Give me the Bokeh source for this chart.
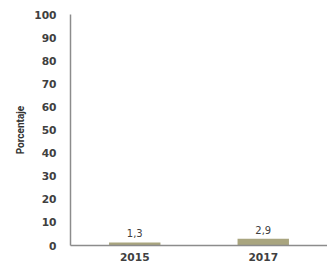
from bokeh.plotting import figure
from bokeh.models import ColumnDataSource, Range1d, FixedTicker
from bokeh.core.properties import value
from bokeh.embed import file_html
from bokeh.resources import INLINE

years = ["2015", "2017"]
values = [1.3, 2.9]
y_ticks = [0, 10, 20, 30, 40, 50, 60, 70, 80, 90, 100]

labels = [f"{v:.1f}".replace(".", ",") for v in values]
src = ColumnDataSource(dict(x=years, top=values, label=labels))

p = figure(x_range=years, y_range=Range1d(0, 100), width=327, height=263,
           output_backend="svg", toolbar_location=None,
           min_border_left=70, min_border_right=0, min_border_top=14, min_border_bottom=16)
p.outline_line_color = None
p.grid.grid_line_color = None
p.background_fill_color = "white"
p.border_fill_color = "white"

p.vbar(x="x", top="top", width=0.4, source=src, fill_color="#a9a57f", line_color=None)
p.text(x="x", y="top", text="label", source=src, text_align="center",
       text_baseline="bottom", y_offset=-5, text_font=value("DejaVu Sans"),
       text_font_size="7.5pt", text_color="#404040")

p.yaxis.ticker = FixedTicker(ticks=y_ticks)
p.yaxis.axis_label = "Porcentaje"
p.yaxis.axis_label_text_font = "Roboto"
p.yaxis.axis_label_text_font_style = "bold"
p.yaxis.axis_label_text_font_size = "7.5pt"
p.yaxis.axis_label_text_color = "#333333"
p.yaxis.axis_label_standoff = 5

for ax in (p.xaxis, p.yaxis):
    ax.major_tick_line_color = None
    ax.minor_tick_line_color = None
    ax.axis_line_color = "#8c8c8c"
    ax.axis_line_width = 1.5
    ax.major_label_text_font = "DejaVu Sans"
    ax.major_label_text_font_style = "bold"
    ax.major_label_text_font_size = "8pt"
    ax.major_label_text_color = "#404040"
p.yaxis.major_label_standoff = 8
p.xaxis.major_label_standoff = 1

open("out.html", "w").write(file_html(p, INLINE))
